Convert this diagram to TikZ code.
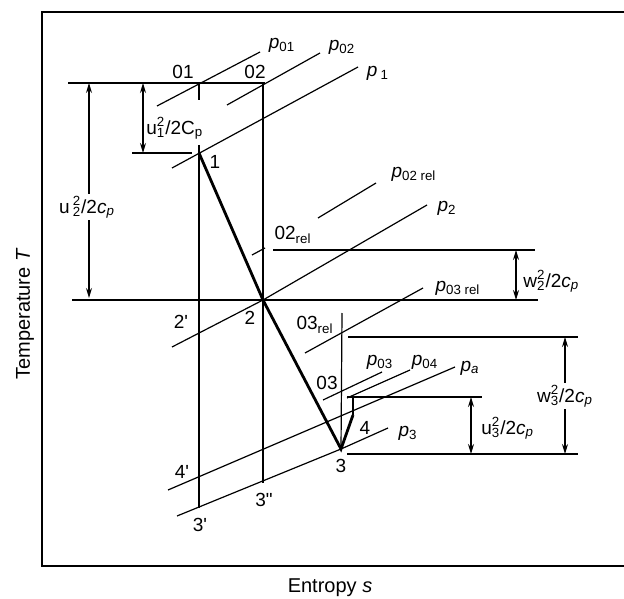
\documentclass[tikz,border=0pt]{standalone}
\usepackage{fontspec}
\setmainfont{Liberation Sans}
\usetikzlibrary{arrows.meta}
\newcommand{\pp}[1]{\textit{p}\textsubscript{#1}}
\newcommand{\cp}{\textit{c}\textsubscript{\textit{p}}}
\newcommand{\supsub}[2]{\rlap{\textsuperscript{#1}}\textsubscript{#2}}
\newcommand{\prm}{\textquotesingle}
\tikzset{
  guide/.style={line width=0.6pt},
  process/.style={line width=1.4pt},
  dim/.style={line width=0.6pt, {Stealth[length=5pt,width=3pt]}-{Stealth[length=5pt,width=3pt]}},
  lbl/.style={inner sep=1pt, font=\fontsize{9.5}{11}\selectfont},
  axlbl/.style={inner sep=1pt, font=\fontsize{10}{12}\selectfont},
}
\begin{document}
\begin{tikzpicture}[x=0.5pt,y=-0.5pt]
\useasboundingbox (0,0) rectangle (624,598);
\draw[line width=1pt] (624,12) -- (42,12) -- (42,566) -- (624,566);

\node[axlbl, rotate=90] (ylab) at (25,314) {Temperature \textit{T}};
\node[axlbl] (xlab) at (330,588) {Entropy \textit{s}};

\coordinate (s01) at (199,83);
\coordinate (s02) at (263,83);
\coordinate (s1) at (199,153);
\coordinate (s2) at (263,300);
\coordinate (s3) at (341,449);
\coordinate (s4) at (353,415);
\coordinate (s04) at (353,397);
\coordinate (s02rel) at (263,250);
\coordinate (s03rel) at (342,313);
\coordinate (s3a) at (199,508);
\coordinate (s3b) at (263,483);

\draw[guide] (68,83) -- (265,83);
\draw[guide] (132,153) -- (192,153);
\draw[guide] (72,300) -- (538,300);
\draw[guide] (273,250) -- (535,250);
\draw[guide] (348,337) -- (578,337);
\draw[guide] (347,397) -- (482,397);
\draw[guide] (347,454) -- (578,454);

\draw[guide] (s01) -- (199,100);
\draw[guide] (199,145) -- (s3a);
\draw[guide] (s02) -- (s3b);
\draw[guide] (s03rel) -- (s3);
\draw[guide] (s04) -- (s4);

\draw[guide] (157,106) -- (260,52);
\draw[guide] (227,105) -- (320,53);
\draw[guide] (172,168) -- (358,67);
\draw[guide] (252,255) -- (265,248);
\draw[guide] (318,218) -- (376,183);
\draw[guide] (172,347) -- (s2) -- (427,205);
\draw[guide] (305,353) -- (423,288);
\draw[guide] (323,400) -- (382,372);
\draw[guide] (347,398) -- (410,370);
\draw[guide] (168,490) -- (455,367);
\draw[guide] (177,516) -- (s3) -- (388,428);

\draw[process] (s1) -- (s2) -- (s3) -- (s4);

\node[lbl] (p01) at (282,45) {\pp{01}};
\node[lbl] (p02) at (342,47) {\pp{02}};
\node[lbl] (p1) at (378,73) {\textit{p}\,\textsubscript{1}};
\node[lbl] (p02rel) at (414,174) {\pp{02 rel}};
\node[lbl] (p2) at (447,208) {\pp{2}};
\node[lbl] (p03rel) at (458,288) {\pp{03 rel}};
\node[lbl] (p03) at (380,362) {\pp{03}};
\node[lbl] (p04) at (425,362) {\pp{04}};
\node[lbl] (pa) at (470,368) {\pp{\textit{a}}};
\node[lbl] (p3) at (408,433) {\pp{3}};

\node[lbl] (l01) at (183,72) {01};
\node[lbl] (l02) at (255,72) {02};
\node[lbl] (l1) at (215,162) {1};
\node[lbl] (l2) at (250,318) {2};
\node[lbl] (l2a) at (181,322) {2\prm};
\node[lbl] (l02rel) at (293,235) {02\textsubscript{rel}};
\node[lbl] (l03rel) at (315,325) {03\textsubscript{rel}};
\node[lbl] (l03) at (327,383) {03};
\node[lbl] (l4) at (365,428) {4};
\node[lbl] (l3) at (341,466) {3};
\node[lbl] (l4a) at (182,472) {4\prm};
\node[lbl] (l3b) at (264,500) {3\textquotedbl};
\node[lbl] (l3a) at (200,525) {3\prm};

\draw[dim] (89,83) -- (89,298);
\node[lbl, fill=white] (u2) at (87,207) {u\,\supsub{2}{2}/2\cp};
\draw[dim] (143,83) -- (143,153);
\node[lbl, anchor=west] (u1) at (144,128) {u\supsub{2}{1}/2C\textsubscript{p}};
\draw[dim] (516,250) -- (516,300);
\node[lbl, anchor=west] (w2) at (521,281) {w\supsub{2}{2}/2\cp};
\draw[dim] (565,337) -- (565,454);
\node[lbl, fill=white] (w3) at (565,396) {w\supsub{2}{3}/2\cp};
\draw[dim] (471,397) -- (471,454);
\node[lbl, anchor=west] (u3) at (479,428) {u\supsub{2}{3}/2\cp};
\end{tikzpicture}
\end{document}
